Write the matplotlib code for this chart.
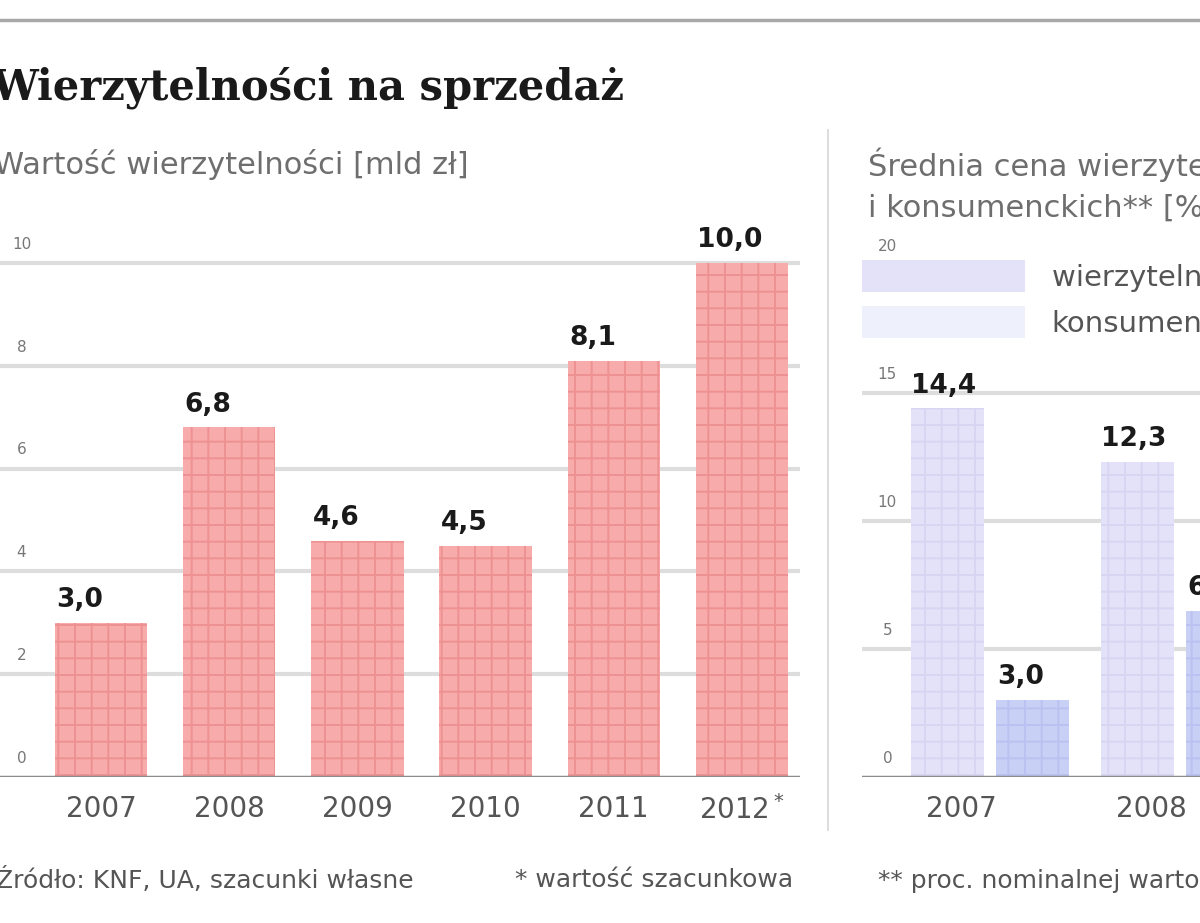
import matplotlib
matplotlib.use("Agg")
import matplotlib.pyplot as plt
from matplotlib.patches import Patch
from matplotlib.lines import Line2D

# dane
lata = ["2007", "2008", "2009", "2010", "2011", "2012$^*$"]
wartosc = [3.0, 6.8, 4.6, 4.5, 8.1, 10.0]
wartosc_etykiety = ["3,0", "6,8", "4,6", "4,5", "8,1", "10,0"]
lewe_ticki = [0, 2, 4, 6, 8, 10]

lata_cena = ["2007", "2008"]
cena_hipoteczne = [14.4, 12.3]
cena_konsumenckie = [3.0, 6.5]
hipo_etykiety = ["14,4", "12,3"]
kons_etykiety = ["3,0", "6,5"]
prawe_ticki = [0, 5, 10, 15, 20]

W, H = 1200, 923
plt.rcParams["font.family"] = ["DejaVu Sans"]
plt.rcParams["hatch.linewidth"] = 1.4

fig = plt.figure(figsize=(W / 100, H / 100), dpi=100)


def fx(px):
    return px / W


def fy(py):
    return 1 - py / H


# linia na gorze i separator
fig.add_artist(Line2D([0, 1], [fy(20), fy(20)], color="#a8a8a8", lw=2.5))
fig.add_artist(Line2D([fx(828), fx(828)], [fy(130), fy(830)], color="#dedede", lw=1.5))

fig.text(fx(-9), fy(88), "Wierzytelności na sprzedaż", fontsize=30, fontweight="bold",
         family="DejaVu Serif", color="#1a1a1a", va="center", ha="left")
fig.text(fx(-6), fy(165), "Wartość wierzytelności [mld zł]", fontsize=22,
         color="#6e6e6e", va="center", ha="left")
fig.text(fx(868), fy(165), "Średnia cena wierzytelności hipotecznych", fontsize=22,
         color="#6e6e6e", va="center", ha="left")
fig.text(fx(868), fy(208), "i konsumenckich** [%]", fontsize=22,
         color="#6e6e6e", va="center", ha="left")

fig.text(fx(-4), fy(880), "Źródło: KNF, UA, szacunki własne", fontsize=18,
         color="#555555", va="center", ha="left")
fig.text(fx(515), fy(880), "* wartość szacunkowa", fontsize=18,
         color="#555555", va="center", ha="left")
fig.text(fx(878), fy(880), "** proc. nominalnej wartości", fontsize=18,
         color="#555555", va="center", ha="left")

# lewy wykres
ax = fig.add_axes([fx(0), fy(777), fx(800), (777 - 232) / H])
x = list(range(len(wartosc)))
ax.set_xlim(-101 / 128.2, (800 - 101) / 128.2)
ax.set_ylim(0, 545 / 51.4)
for t in lewe_ticki[1:]:
    ax.axhline(t, color="#dddddd", lw=3, zorder=0)
ax.axhline(0, color="#8c8c8c", lw=2.5, zorder=3)
bw = 0.72
ax.bar(x, wartosc, width=bw, color="#f7abaa", edgecolor="#ee9193", hatch="+",
       linewidth=0, zorder=2)
for xi, v, lab in zip(x, wartosc, wartosc_etykiety):
    ax.annotate(lab, (xi - bw / 2, v), xytext=(1, 7), textcoords="offset points",
                ha="left", va="bottom", fontsize=19, fontweight="bold", color="#1a1a1a")
for t in lewe_ticki:
    ax.annotate(str(t), (-0.62, t), xytext=(0, 8), textcoords="offset points",
                ha="center", va="bottom", fontsize=11, color="#777777")
ax.set_xticks(x)
ax.set_xticklabels(lata, fontsize=20, color="#555555")
ax.tick_params(axis="x", length=0, pad=13)
ax.set_yticks([])
for s in ax.spines.values():
    s.set_visible(False)
ax.patch.set_alpha(0)

# prawy wykres
ax2 = fig.add_axes([fx(862), fy(777), fx(538), (777 - 232) / H])
g = list(range(len(lata_cena)))
ax2.set_xlim((862 - 990) / 190, (1400 - 990) / 190)
ax2.set_ylim(0, 545 / 25.6)
for t in prawe_ticki[1:4]:
    ax2.axhline(t, color="#dddddd", lw=3, zorder=0)
ax2.axhline(0, color="#8c8c8c", lw=2.5, zorder=3)
off, bw2 = 0.224, 0.385
ax2.bar([i - off for i in g], cena_hipoteczne, width=bw2, color="#e4e2f8",
        edgecolor="#d6d6f3", hatch="+", linewidth=0, zorder=2)
ax2.bar([i + off for i in g], cena_konsumenckie, width=bw2, color="#c9d0f5",
        edgecolor="#b9c2f1", hatch="+", linewidth=0, zorder=2)
for i, v, lab in zip(g, cena_hipoteczne, hipo_etykiety):
    ax2.annotate(lab, (i - off - bw2 / 2, v), xytext=(0, 7), textcoords="offset points",
                 ha="left", va="bottom", fontsize=19, fontweight="bold", color="#1a1a1a")
for i, v, lab in zip(g, cena_konsumenckie, kons_etykiety):
    ax2.annotate(lab, (i + off - bw2 / 2, v), xytext=(1, 7), textcoords="offset points",
                 ha="left", va="bottom", fontsize=19, fontweight="bold", color="#1a1a1a")
for t in prawe_ticki:
    ax2.annotate(str(t), (-0.54, t), xytext=(0, 8), textcoords="offset points",
                 ha="center", va="bottom", fontsize=11, color="#777777")
ax2.set_xticks([i - 0.15 for i in g])
ax2.set_xticklabels(lata_cena, fontsize=20, color="#555555")
ax2.tick_params(axis="x", length=0, pad=13)
ax2.set_yticks([])
for s in ax2.spines.values():
    s.set_visible(False)
ax2.patch.set_alpha(0)

uchwyty = [Patch(facecolor="#e4e2f8", edgecolor="none"),
           Patch(facecolor="#eef0fc", edgecolor="none")]
ax2.legend(uchwyty, ["wierzytelności hipoteczne", "konsumenckie"],
           loc="upper left", bbox_to_anchor=(0.0, 1.0 - 28 / 545), frameon=False,
           handlelength=5.6, handleheight=1.3, handletextpad=0.9, labelspacing=0.5,
           fontsize=21, labelcolor="#555555", borderaxespad=0, borderpad=0)

fig.savefig("out.png", dpi=100)
